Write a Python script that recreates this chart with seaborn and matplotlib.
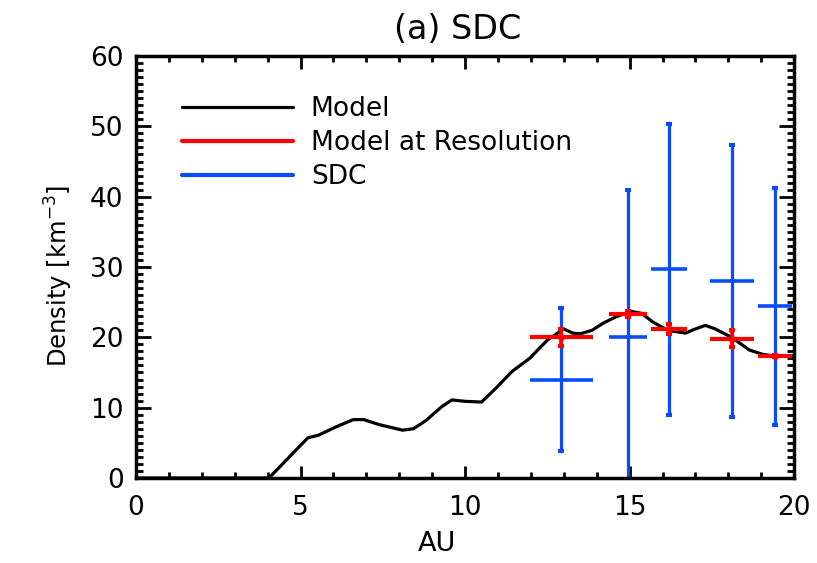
import numpy as np
import pandas as pd
import matplotlib
matplotlib.use("Agg")
import matplotlib.pyplot as plt
import seaborn as sns
from matplotlib.ticker import MultipleLocator
from matplotlib.lines import Line2D

# Model curve
model_x = [0.0, 4.04, 5.22, 5.55, 6.07, 6.6, 6.92, 7.38, 8.1, 8.43, 8.82, 9.28, 9.6, 10.0,
           10.5, 10.9, 11.44, 11.96, 12.5, 13.0, 13.27, 13.5, 13.86, 14.19, 14.58, 15.04,
           15.37, 15.7, 16.15, 16.7, 16.95, 17.3, 17.6, 18.1, 18.64, 19.03, 19.42, 20.0]
model_y = [0.0, 0.0, 5.7, 6.1, 7.25, 8.3, 8.3, 7.6, 6.8, 7.0, 8.2, 10.1, 11.1, 10.9,
           10.8, 12.6, 15.2, 17.0, 19.6, 21.2, 20.6, 20.5, 21.0, 22.0, 22.9, 23.7,
           23.4, 22.2, 21.0, 20.6, 21.1, 21.7, 21.2, 20.0, 18.2, 17.6, 17.3, 17.4]

# Bin centres and half widths
bin_x = [12.92, 14.95, 16.19, 18.12, 19.42]
bin_xerr = [0.96, 0.58, 0.54, 0.67, 0.52]

# Model at resolution
res_y = [20.0, 23.3, 21.2, 19.8, 17.35]
res_yerr = [1.25, 0.45, 0.7, 1.2, 0.2]

# SDC measurements
sdc_y = [14.0, 20.0, 29.7, 28.0, 24.4]
sdc_yerr = [10.1, 20.9, 20.7, 19.3, 16.8]

red = "#ff0000"
blue = "#0a4bff"

sns.set_style("white")
plt.rcParams['font.family'] = ['DejaVu Sans']
plt.rcParams['text.color'] = 'black'
plt.rcParams['axes.labelcolor'] = 'black'

fig = plt.figure(figsize=(8.17, 5.63), dpi=100)
ax = fig.add_axes([0.1665, 0.151, 0.8055, 0.7495])

# SDC error bars
ax.errorbar(bin_x, sdc_y, xerr=bin_xerr, fmt='none', ecolor=blue,
            elinewidth=2.6, capsize=0, zorder=2)
ax.errorbar(bin_x, sdc_y, yerr=sdc_yerr, fmt='none', ecolor=blue,
            elinewidth=2.3, capsize=2.5, capthick=3, zorder=2)

df = pd.DataFrame({"AU": model_x, "Density": model_y})
sns.lineplot(data=df, x="AU", y="Density", ax=ax, color="black", lw=2.3,
             zorder=3, estimator=None, sort=False)

ax.errorbar(bin_x, res_y, xerr=bin_xerr, fmt='o', ms=4, color=red,
            ecolor=red, elinewidth=3, capsize=0, zorder=4)
ax.errorbar(bin_x, res_y, yerr=res_yerr, fmt='none', ecolor=red,
            elinewidth=2.6, capsize=2.5, capthick=3, zorder=4)

ax.set_xlim(0, 20)
ax.set_ylim(0, 60)
ax.xaxis.set_major_locator(MultipleLocator(5))
ax.xaxis.set_minor_locator(MultipleLocator(1))
ax.yaxis.set_major_locator(MultipleLocator(10))
ax.yaxis.set_minor_locator(MultipleLocator(1))

for s in ax.spines.values():
    s.set_linewidth(2.5)
    s.set_color("black")
ax.tick_params(which='both', direction='in', top=True, right=True, bottom=True, left=True,
               width=2, colors='black', labelsize=19)
ax.tick_params(axis='y', which='major', length=11, pad=9)
ax.tick_params(axis='y', which='minor', length=5)
ax.tick_params(axis='x', which='major', length=9, pad=12)
ax.tick_params(axis='x', which='minor', length=4)

ax.set_xlabel("AU", fontsize=19.5)
ax.xaxis.set_label_coords(0.457, -0.125)
ax.set_ylabel("Density [km$^{-3}$]", fontsize=17.5)
ax.yaxis.set_label_coords(-0.093, 0.48)
ax.set_title("(a) SDC", fontsize=24, x=0.489, pad=12)

handles = [Line2D([], [], color='black', lw=2.3),
           Line2D([], [], color=red, lw=3),
           Line2D([], [], color=blue, lw=3)]
ax.legend(handles, ["Model", "Model at Resolution", "SDC"], loc='upper left',
          bbox_to_anchor=(0.07, 0.905), frameon=False, fontsize=19,
          handlelength=4.2, handletextpad=0.68, labelspacing=0.3, borderpad=0,
          borderaxespad=0)

fig.savefig("out.png", dpi=100)
